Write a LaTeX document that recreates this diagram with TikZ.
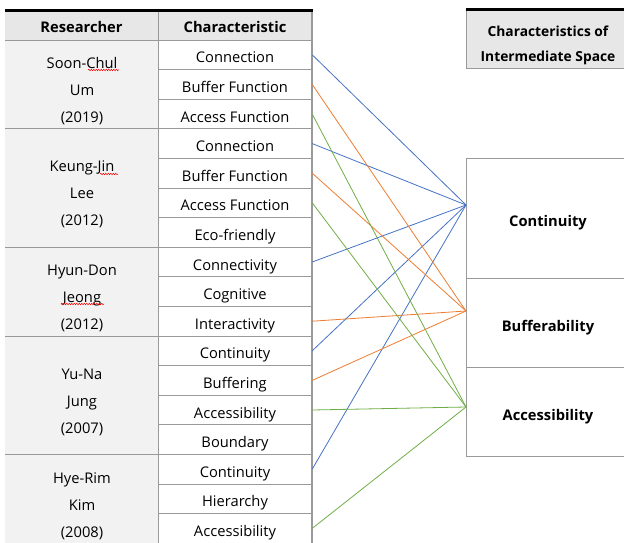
\documentclass[tikz,border=0pt]{standalone}
\usepackage{fontspec}
\setmainfont{Open Sans}
\usetikzlibrary{positioning,decorations.pathmorphing}
\definecolor{headgray}{HTML}{E7E7E7}
\definecolor{namegray}{HTML}{F2F2F2}
\definecolor{rulegray}{HTML}{9A9A9A}
\definecolor{linkblue}{HTML}{4472C4}
\definecolor{linkorange}{HTML}{ED7D31}
\definecolor{linkgreen}{HTML}{70AD47}

\begin{document}
\begin{tikzpicture}[x=1pt, y=-1pt,
        cell/.style={minimum width=154pt, minimum height=29.6pt, inner sep=0pt, text height=16pt, text depth=0pt, text=black, font=\fontsize{14.7}{16}\selectfont},
        head/.style={cell, font=\fontsize{14.7}{16}\selectfont\bfseries},
        person/.style={align=center, inner sep=0pt, font=\fontsize{14.7}{27}\selectfont},
        trait/.style={draw=rulegray, line width=1pt, fill=white, minimum width=164pt, inner sep=0pt, text height=17pt, text depth=0pt, font=\fontsize{14.7}{16}\selectfont\bfseries},
        spell/.style={red, line width=0.5pt, decorate, decoration={snake, amplitude=0.7pt, segment length=2.5pt}},
        link/.style={line width=0.8pt}
    ]
    \useasboundingbox (0,0) rectangle (624,543);

    % Table backgrounds
    \fill[headgray] (5,10) rectangle (312,40);
    \fill[namegray] (5,40) rectangle (158,543);

    % Table rules
    \draw[rulegray, line width=0.9pt]
        (5,40) -- (312,40)
        (158,69.6) -- (312,69.6)
        (158,99.2) -- (312,99.2)
        (5,128.8) -- (312,128.8)
        (158,158.4) -- (312,158.4)
        (158,188) -- (312,188)
        (158,217.6) -- (312,217.6)
        (5,247.2) -- (312,247.2)
        (158,276.8) -- (312,276.8)
        (158,306.4) -- (312,306.4)
        (5,336) -- (312,336)
        (158,365.6) -- (312,365.6)
        (158,395.2) -- (312,395.2)
        (158,424.8) -- (312,424.8)
        (5,454.4) -- (312,454.4)
        (158,484) -- (312,484)
        (158,513.6) -- (312,513.6)
        (158,10) -- (158,543);
    \draw[rulegray, line width=1.8pt] (312,10) -- (312,543);
    \draw[black, line width=3pt] (5,10.5) -- (312.9,10.5);

    % Header row
    \node[head, minimum width=153pt] (hres) at (81.5,25) {Researcher};
    \node[head] (hchar) at (235,25) {Characteristic};

    % Researchers
    \node[person] (um) at (82,91) {Soon-Chul\\Um\\(2019)};
    \node[person] (lee) at (82,194.5) {Keung-Jin\\Lee\\(2012)};
    \node[person] (jeong) at (82,298) {Hyun-Don\\Jeong\\(2012)};
    \node[person] (jung) at (82,402) {Yu-Na\\Jung\\(2007)};
    \node[person] (kim) at (82,506) {Hye-Rim\\Kim\\(2008)};

    % Spell-check marks
    \draw[spell] (88,70) -- (119,70);
    \draw[spell] (100,174) -- (118,174);
    \draw[spell] (61,304) -- (104,304);

    % Characteristics
    \node[cell] (c1) at (235,54.8) {Connection};
    \node[cell] (c2) at (235,84.4) {Buffer Function};
    \node[cell] (c3) at (235,114) {Access Function};
    \node[cell] (c4) at (235,143.6) {Connection};
    \node[cell] (c5) at (235,173.2) {Buffer Function};
    \node[cell] (c6) at (235,202.8) {Access Function};
    \node[cell] (c7) at (235,232.4) {Eco-friendly};
    \node[cell] (c8) at (235,262) {Connectivity};
    \node[cell] (c9) at (235,291.6) {Cognitive};
    \node[cell] (c10) at (235,321.2) {Interactivity};
    \node[cell] (c11) at (235,350.8) {Continuity};
    \node[cell] (c12) at (235,380.4) {Buffering};
    \node[cell] (c13) at (235,410) {Accessibility};
    \node[cell] (c14) at (235,439.6) {Boundary};
    \node[cell] (c15) at (235,469.2) {Continuity};
    \node[cell] (c16) at (235,498.8) {Hierarchy};
    \node[cell] (c17) at (235,528.4) {Accessibility};

    % Right side
    \node[trait, fill=headgray, minimum height=59pt, text height=, text depth=] (space) at (548,39.5) {};
    \draw[black, line width=3pt] (space.north west) -- (space.north east);
    \node[align=center, inner sep=0pt, font=\fontsize{13.8}{25}\selectfont\bfseries] (spacetext) at (548,45) {Characteristics of\\Intermediate Space};
    \node[trait, minimum height=120pt] (cont) at (548,218) {Continuity};
    \node[trait, minimum height=89pt] (buff) at (548,322.5) {Bufferability};
    \node[trait, minimum height=89pt] (acc) at (548,411.5) {Accessibility};
    \coordinate (pcont) at (466,205);
    \coordinate (pbuff) at (466,311);
    \coordinate (pacc) at (466,407);

    % Links
    \draw[link, linkblue] (c1.east) -- (pcont);
    \draw[link, linkblue] (c4.east) -- (pcont);
    \draw[link, linkblue] (c8.east) -- (pcont);
    \draw[link, linkblue] (c11.east) -- (pcont);
    \draw[link, linkblue] (c15.east) -- (pcont);
    \draw[link, linkorange] (c2.east) -- (pbuff);
    \draw[link, linkorange] (c5.east) -- (pbuff);
    \draw[link, linkorange] (c10.east) -- (pbuff);
    \draw[link, linkorange] (c12.east) -- (pbuff);
    \draw[link, linkgreen] (c3.east) -- (pacc);
    \draw[link, linkgreen] (c6.east) -- (pacc);
    \draw[link, linkgreen] (c13.east) -- (pacc);
    \draw[link, linkgreen] (c17.east) -- (pacc);
\end{tikzpicture}
\end{document}
